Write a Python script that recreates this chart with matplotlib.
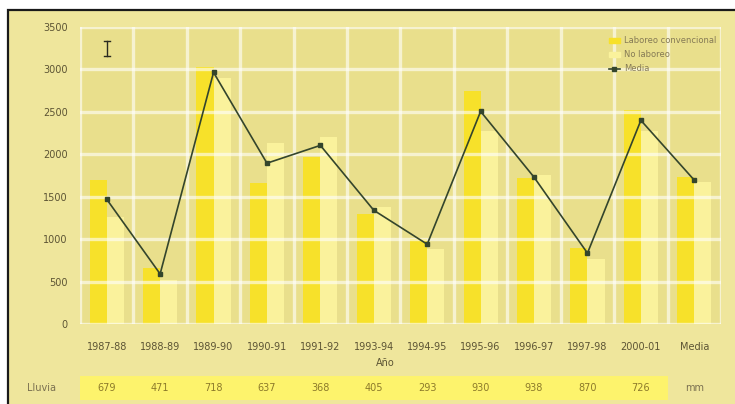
import numpy as np
import matplotlib
matplotlib.use("Agg")
import matplotlib.pyplot as plt
from matplotlib.patches import Rectangle
from matplotlib.lines import Line2D
import matplotlib.transforms as mtransforms

# seasons and yields (kg/ha)
campanas = ["1987-88", "1988-89", "1989-90", "1990-91", "1991-92", "1993-94",
            "1994-95", "1995-96", "1996-97", "1997-98", "2000-01", "Media"]
convencional = [1700, 660, 3030, 1660, 1965, 1300, 1000, 2750, 1720, 900, 2520, 1730]
no_laboreo = [1260, 520, 2900, 2130, 2200, 1380, 880, 2280, 1750, 770, 2280, 1670]
media = [1470, 590, 2965, 1895, 2105, 1340, 940, 2505, 1730, 835, 2400, 1695]
# rainfall per season (mm)
lluvia = [679, 471, 718, 637, 368, 405, 293, 930, 938, 870, 726]

col_conv = "#f7e12a"
col_nolab = "#faf29c"
col_fondo = "#e9df8c"
col_marco = "#efe69c"
col_texto = "#5c5434"

fig = plt.figure(figsize=(7.35, 4.04), dpi=100)
fig.patch.set_facecolor("white")

# outer frame with dark border on the left and top
marco = Rectangle((8 / 735, -0.02), 1.0, 1 - 10 / 404 + 0.02, transform=fig.transFigure,
                  facecolor=col_marco, edgecolor="#1a1a1a", linewidth=1.6, zorder=-10)
fig.patches.append(marco)

ax = fig.add_axes([80 / 735, 80 / 404, 641 / 735, 297 / 404])
ax.set_zorder(1)
ax.set_facecolor(col_fondo)

x = np.arange(len(campanas))
w = 0.32
ax.bar(x - w / 2, convencional, width=w, color=col_conv, zorder=2, label="Laboreo convencional")
ax.bar(x + w / 2, no_laboreo, width=w, color=col_nolab, zorder=2, label="No laboreo")
ax.plot(x, media, color="#34452c", linewidth=1.2, marker="s", markersize=3,
        zorder=4, label="Media")

# white grid laid over the bars
for yv in range(0, 3501, 500):
    ax.axhline(yv, color="white", linewidth=2.4, alpha=0.6, zorder=3)
for xv in np.arange(-0.5, len(campanas), 1.0):
    ax.axvline(xv, color="white", linewidth=2.4, alpha=0.6, zorder=3)

# small I-beam mark in the upper left corner
ax.plot([0, 0], [3160, 3340], color="#2a2a20", linewidth=1.0, zorder=5)
ax.plot([-0.06, 0.06], [3340, 3340], color="#2a2a20", linewidth=1.0, zorder=5)
ax.plot([-0.06, 0.06], [3160, 3160], color="#2a2a20", linewidth=1.0, zorder=5)

ax.set_xlim(-0.5, len(campanas) - 0.5)
ax.set_ylim(0, 3500)
ax.set_yticks(range(0, 3501, 500))
ax.set_xticks(x)
ax.set_xticklabels(campanas)
ax.tick_params(axis="both", length=0, labelsize=7, colors=col_texto)
ax.tick_params(axis="x", pad=13)
ax.tick_params(axis="y", pad=9)
for s in ax.spines.values():
    s.set_visible(False)

ax.text(0.476, -0.13, "Año", transform=ax.transAxes, ha="center", va="center",
        fontsize=7, color=col_texto)

# rainfall row below the axis
trans = mtransforms.blended_transform_factory(ax.transData, fig.transFigure)
banda = Rectangle((-0.5, 4 / 404), len(lluvia), 24 / 404, transform=trans,
                  facecolor="#fdf36c", edgecolor="none", clip_on=False, zorder=1)
ax.add_patch(banda)
y_ll = 1 - 388 / 404
for xi, v in zip(x, lluvia):
    ax.text(xi, y_ll, str(v), transform=trans, ha="center", va="center",
            fontsize=7, color="#8c7a2a", clip_on=False)
ax.text(x[-1], y_ll, "mm", transform=trans, ha="center", va="center",
        fontsize=7, color="#7a7050", clip_on=False)
fig.text(42 / 735, y_ll, "Lluvia", ha="center", va="center", fontsize=7, color="#7a7050")

# legend
handles = [Rectangle((0, 0), 1, 1, color=col_conv),
           Rectangle((0, 0), 1, 1, color=col_nolab),
           Line2D([0], [0], color="#34452c", linewidth=1.2, marker="s", markersize=3)]
leg = ax.legend(handles, ["Laboreo convencional", "No laboreo", "Media"],
                loc="upper right", bbox_to_anchor=(1.0, 0.985), frameon=False,
                fontsize=6, handlelength=1.4, handletextpad=0.4, labelspacing=0.6,
                borderaxespad=0.2)
for t in leg.get_texts():
    t.set_color("#857a55")

fig.savefig("out.png", dpi=100, facecolor=fig.get_facecolor())
